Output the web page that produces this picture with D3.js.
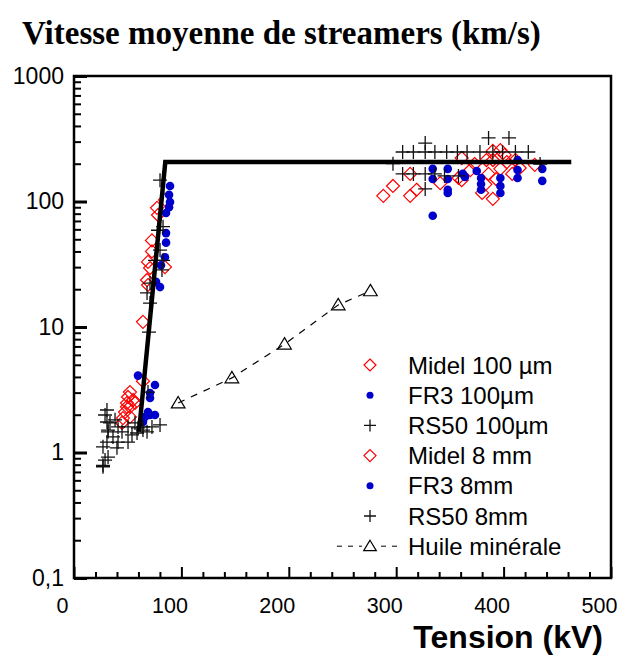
<!DOCTYPE html>
<html><head><meta charset="utf-8">
<script src="https://cdn.jsdelivr.net/npm/d3@7"></script>
<style>body{margin:0;background:#fff}</style>
</head><body>
<svg id="c" width="617" height="657"></svg>
<script>
// ---- data (kV, km/s) ----
const midel100 = [[84.7,103],[77.3,89],[78.2,78],[72.6,49],[72.6,40],[68.9,33],[84.7,30],[70.8,29.5],[68,23.7],[68.9,21.6],[64.2,11],[64.2,3.7],[52.1,3.03],[50.3,2.77],[55,2.62],[49.3,2.48],[52.1,2.31],[47.5,2.1],[52.1,1.92],[45.6,1.88],[44.7,1.72],[56.8,2.48],[49.3,2.31]];
const fr3_100 = [[89.4,133],[88.5,113],[89.4,99],[88.5,90],[85.7,81],[85.7,56],[85.7,47],[84.7,36],[81,31],[76.4,22.9],[80.1,20.8],[59.6,4.1],[75.4,3.45],[70.8,2.98],[70.8,2.72],[68.9,2.1],[75.4,1.99],[66.1,1.92],[64.2,1.75],[70.8,1.99]];
const rs50_100 = [[80.1,148],[78.2,59],[82.9,63],[80.1,41],[75.4,34],[82.9,34],[81.9,28.5],[70.8,22.4],[68,18.7],[70.8,15.5],[69.8,9.1],[68.9,3.03],[30.7,2.18],[28.9,1.99],[33.5,1.72],[38.2,1.82],[41,1.6],[31.7,1.46],[36.3,1.33],[41,1.21],[44.7,1.46],[50.3,1.6],[56.8,1.72],[59.6,1.57],[64.2,1.6],[72.6,1.6],[80.1,1.66],[68,1.46],[54,1.38],[40,1.09],[30.7,1.21],[28.9,0.87],[31.7,0.92],[27,0.77],[50.3,1.21],[58.7,1.43],[30.7,1.75],[31.7,1.51],[27,1.11],[27,0.79],[64.2,1.51]];
const midel8 = [[288,111],[297,133],[313,166],[313,111],[319,124],[341,140],[361,222],[361,148],[358,154],[373,199],[390,253],[390,214],[397,182],[403,206],[386,166],[380,117],[390,105],[408,166],[429,196],[401,235],[393,151],[369,178],[384,214],[397,257],[411,214],[415,185],[383,137]];
const fr3_8 = [[334,182],[334,151],[348,182],[348,151],[348,124],[362,166],[334,77],[348,117],[364,157],[375,175],[379,154],[379,138],[379,124],[397,154],[397,133],[397,117],[413,214],[413,178],[413,154],[436,182],[436,146]];
const rs50_8 = [[306,248],[316,248],[327,248],[336,248],[347,248],[357,248],[366,248],[378,248],[390,248],[399,248],[411,248],[423,248],[297,200],[434,199],[306,166],[316,166],[327,166],[336,166],[345,160],[358,160],[327,126],[327,292],[386,321],[405,321]];
const huile = [[97,2.48],[147,3.93],[196,7.3],[246,15],[276,19.4]];
const fitLine = [[60.5,1.46],[85,206],[463,206]];
const xTicks = [0,100,200,300,400,500];
const yTicks = [0.1,1,10,100,1000];
const yTickLabels = ["0,1","1","10","100","1000"];
const legendLabels = ["Midel 100 µm","FR3 100µm","RS50 100µm","Midel 8 mm","FR3 8mm","RS50 8mm","Huile minérale"];
const legendTypes = ["diamond","dot","plus","diamond","dot","plus","tri"];

const svg = d3.select("#c");
const x = d3.scaleLinear().domain([0,500]).range([74,611]);
const y = d3.scaleLog().domain([0.1,1000]).range([578,76]);
const FONT = "Liberation Sans, Arial, sans-serif";

// title
svg.append("text").attr("x",22).attr("y",44)
  .attr("font-family","Liberation Serif, Times New Roman, serif")
  .attr("font-weight","bold").attr("font-size",33).text("Vitesse moyenne de streamers (km/s)");

// axes
const minorX = d3.range(0,501,20).filter(v=>v%100!==0);
svg.append("g").attr("transform","translate(0,578)")
  .call(d3.axisBottom(x).tickValues(minorX).tickSizeInner(-6).tickSizeOuter(0).tickFormat(""))
  .call(g=>{g.select(".domain").remove(); g.selectAll("line").attr("stroke","#000").attr("stroke-width",2);});
svg.append("g").attr("transform","translate(0,578)")
  .call(d3.axisBottom(x).tickValues(xTicks).tickSizeInner(-11).tickSizeOuter(0).tickPadding(20).tickFormat(d=>d))
  .call(g=>{g.select(".domain").remove(); g.selectAll("line").attr("stroke","#000").attr("stroke-width",2);
    g.selectAll("text").attr("font-family",FONT).attr("font-size",21.5).attr("fill","#000").attr("dx",-12);});

const minorY = [];
[0.1,1,10,100].forEach(d=>{for(let k=2;k<=9;k++) minorY.push(d*k);});
svg.append("g").attr("transform","translate(74,0)")
  .call(d3.axisLeft(y).tickValues(minorY).tickSizeInner(-7).tickSizeOuter(0).tickFormat(""))
  .call(g=>{g.select(".domain").remove(); g.selectAll("line").attr("stroke","#000").attr("stroke-width",2);});
svg.append("g").attr("transform","translate(74,0)")
  .call(d3.axisLeft(y).tickValues(yTicks).tickSizeInner(-13).tickSizeOuter(0).tickPadding(10).tickFormat((d,i)=>yTickLabels[i]))
  .call(g=>{g.select(".domain").remove(); g.selectAll("line").attr("stroke","#000").attr("stroke-width",3);
    g.selectAll("text").attr("font-family",FONT).attr("font-size",23).attr("fill","#000");});

// frame
svg.append("rect").attr("x",x(0)).attr("y",y(1000)).attr("width",x(500)-x(0)).attr("height",y(0.1)-y(1000))
  .attr("fill","none").attr("stroke","#000").attr("stroke-width",2.5);

// x title
svg.append("text").attr("x",603).attr("y",648).attr("text-anchor","end")
  .attr("font-family",FONT).attr("font-weight","bold").attr("font-size",32).text("Tension (kV)");

// symbol drawers
const RED="#ff0000", BLUE="#0000cc";
function diamond(g,cx,cy,r){g.append("path").attr("d",`M${cx},${cy-r}L${cx+r},${cy}L${cx},${cy+r}L${cx-r},${cy}Z`)
  .attr("fill","none").attr("stroke",RED).attr("stroke-width",1.2);}
function dot(g,cx,cy,r){g.append("circle").attr("cx",cx).attr("cy",cy).attr("r",r).attr("fill",BLUE);}
function plus(g,cx,cy,r){g.append("path").attr("d",`M${cx-r},${cy}H${cx+r}M${cx},${cy-r}V${cy+r}`)
  .attr("stroke","#111").attr("stroke-width",1.3).attr("fill","none");}
function tri(g,cx,cy,r){g.append("path").attr("d",`M${cx},${cy-r}L${cx+r*1.05},${cy+r*0.75}L${cx-r*1.05},${cy+r*0.75}Z`)
  .attr("fill","none").attr("stroke","#000").attr("stroke-width",1.2);}

const pts = svg.append("g");
[midel100,midel8].forEach(arr=>arr.forEach(d=>diamond(pts,x(d[0]),y(d[1]),6.5)));
[fr3_100,fr3_8].forEach(arr=>arr.forEach(d=>dot(pts,x(d[0]),y(d[1]),4.3)));
[rs50_100,rs50_8].forEach(arr=>arr.forEach(d=>plus(pts,x(d[0]),y(d[1]),7)));

// huile minerale
const line = d3.line().x(d=>x(d[0])).y(d=>y(d[1]));
svg.append("path").datum(huile).attr("d",line).attr("fill","none").attr("stroke","#000")
  .attr("stroke-width",1.2).attr("stroke-dasharray","7,7");
huile.forEach(d=>tri(svg,x(d[0]),y(d[1]),6.5));

// fit line
svg.append("path").datum(fitLine).attr("d",line).attr("fill","none").attr("stroke","#000")
  .attr("stroke-width",4.5).attr("stroke-linejoin","miter");

// legend
const lg = svg.append("g");
legendLabels.forEach((lab,i)=>{
  const cy = 365 + i*30.2;
  const t = legendTypes[i];
  if(t==="diamond") diamond(lg,370,cy,6);
  else if(t==="dot") dot(lg,370,cy,3.5);
  else if(t==="plus") plus(lg,370,cy,6);
  else {
    lg.append("line").attr("x1",337).attr("x2",403).attr("y1",cy).attr("y2",cy)
      .attr("stroke","#000").attr("stroke-width",1).attr("stroke-dasharray","5,6");
    lg.append("rect").attr("x",362).attr("y",cy-7).attr("width",16).attr("height",14).attr("fill","#fff");
    tri(lg,370,cy,6);
  }
  lg.append("text").attr("x",408).attr("y",cy+8.5).attr("font-family",FONT).attr("font-size",24).text(lab);
});
</script>
</body></html>
